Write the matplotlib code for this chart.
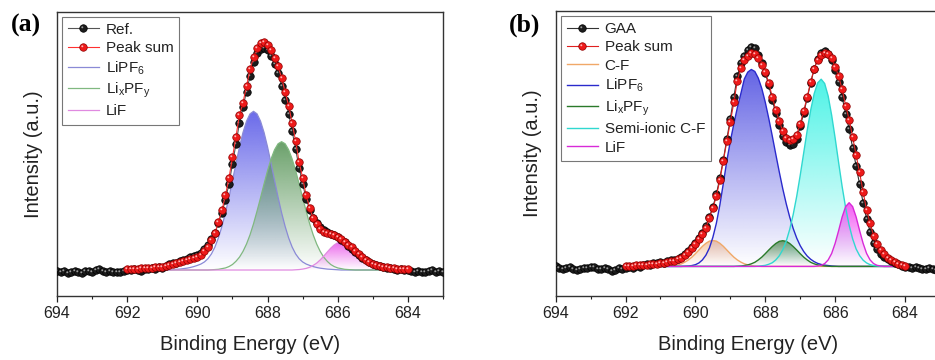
import numpy as np
import matplotlib
matplotlib.use('Agg')
import matplotlib.pyplot as plt
import matplotlib.colors as mcolors
from matplotlib.path import Path
from matplotlib.ticker import MultipleLocator

plt.rcParams['font.family'] = ['Liberation Sans', 'DejaVu Sans']
plt.rcParams['mathtext.fontset'] = 'custom'
plt.rcParams['mathtext.rm'] = 'Liberation Sans'
plt.rcParams['mathtext.it'] = 'Liberation Sans:italic'
plt.rcParams['mathtext.bf'] = 'Liberation Sans:bold'

# binding energy grids (eV): measured scan and fitted window
meas_energy = np.linspace(694.0, 683.0, 111)
fit_energy = np.linspace(692.0, 684.0, 81)

# ---- panel (a): reference electrolyte, F 1s ----
ref_a = [-.004, -.008, -.006, -.011, -.007, -.003, -.009, -.012, -.006, -.004,
         -.008, -.002, .003, -.004, -.009, -.006, -.010, -.007, -.008, -.005,
         .000, -.002, .004, .002, -.003, .006, .003, .008, .005, .014,
         .010, .018, .024, .032, .030, .040, .045, .050, .056, .060,
         .066, .076, .090, .110, .135, .160, .205, .250, .305, .375,
         .46, .55, .64, .71, .775, .845, .905, .945, .962, .965,
         .955, .93, .895, .855, .80, .74, .68, .605, .525, .445,
         .375, .31, .262, .225, .205, .185, .172, .165, .158, .152,
         .143, .132, .12, .106, .092, .078, .064, .052, .042, .034,
         .027, .020, .017, .011, .008, .010, .004, .002, .005, -.001,
         .000, -.004, -.008, -.003, -.007, -.010, -.006, -.002, -.009, -.006,
         -.008]
sum_a = [.003, .004, .005, .006, .007, .008, .009, .010, .012, .013,
         .015, .018, .021, .025, .029, .033, .037, .042, .046, .051,
         .057, .067, .082, .10, .13, .16, .21, .26, .325, .40,
         .49, .58, .675, .728, .80, .872, .925, .965, .986, .99,
         .98, .955, .92, .885, .835, .775, .715, .64, .56, .47,
         .40, .325, .27, .225, .20, .178, .166, .16, .155, .151,
         .145, .135, .122, .11, .098, .083, .068, .055, .044, .035,
         .028, .023, .018, .014, .011, .009, .007, .006, .005, .004,
         .004]
lipf6_a = [0, 0, 0, 0, 0, 0, 0, 0, 0, 0,
           0, 0, .001, .002, .003, .004, .006, .008, .011, .015,
           .02, .026, .035, .049, .07, .1, .14, .19, .249, .316,
           .389, .463, .535, .598, .647, .679, .69, .679, .647, .598,
           .535, .463, .389, .316, .249, .19, .14, .1, .07, .049,
           .035, .026, .02, .015, .011, .008, .006, .004, .003, .002,
           .001, 0, 0, 0, 0, 0, 0, 0, 0, 0,
           0, 0, 0, 0, 0, 0, 0, 0, 0, 0,
           0]
lixpfy_a = [0, 0, 0, 0, 0, 0, 0, 0, 0, 0,
            0, 0, 0, 0, 0, 0, 0, 0, 0, 0,
            0, 0, 0, 0, .001, .002, .003, .006, .009, .015,
            .024, .038, .056, .081, .113, .153, .201, .256, .314, .374,
            .432, .483, .523, .549, .558, .549, .523, .483, .432, .374,
            .314, .256, .201, .153, .113, .081, .056, .038, .024, .015,
            .009, .006, .003, .002, .001, 0, 0, 0, 0, 0,
            0, 0, 0, 0, 0, 0, 0, 0, 0, 0,
            0]
lif_a = [0, 0, 0, 0, 0, 0, 0, 0, 0, 0,
         0, 0, 0, 0, 0, 0, 0, 0, 0, 0,
         0, 0, 0, 0, 0, 0, 0, 0, 0, 0,
         0, 0, 0, 0, 0, 0, 0, 0, 0, 0,
         0, 0, 0, 0, 0, 0, 0, 0, .001, .002,
         .004, .007, .012, .02, .03, .044, .06, .078, .095, .109,
         .119, .122, .119, .109, .095, .078, .06, .044, .03, .02,
         .012, .007, .004, .002, .001, 0, 0, 0, 0, 0,
         0]

# ---- panel (b): GAA, F 1s ----
gaa_b = [.002, -.006, -.010, -.008, -.004, -.012, -.018, -.011, -.006, -.009,
         -.005, -.004, -.010, -.014, -.008, -.012, -.019, -.015, -.009, -.012,
         -.008, -.004, -.006, .002, -.001, .008, .012, .008, .014, .016,
         .020, .018, .024, .028, .030, .036, .045, .058, .072, .090,
         .110, .130, .155, .185, .230, .275, .335, .410, .495, .590,
         .685, .785, .88, .94, .975, 1.0, 1.015, 1.01, .98, .94,
         .895, .84, .77, .71, .655, .605, .575, .562, .565, .592,
         .648, .71, .78, .85, .915, .96, .99, .998, .985, .955,
         .91, .855, .785, .705, .635, .55, .465, .38, .295, .22,
         .16, .11, .08, .058, .045, .034, .025, .016, .01, .004,
         -.002, -.005, -.008, -.004, -.009, -.013, -.010, -.006, -.011, -.015,
         -.012]
sum_b = [.002, .003, .004, .005, .006, .007, .008, .010, .011, .013,
         .015, .017, .020, .023, .027, .033, .041, .053, .068, .085,
         .103, .125, .15, .18, .225, .27, .325, .40, .49, .58,
         .67, .76, .86, .92, .955, .975, .987, .985, .965, .935,
         .90, .85, .785, .725, .675, .625, .595, .586, .588, .61,
         .66, .72, .785, .855, .915, .958, .98, .99, .985, .964,
         .925, .88, .82, .745, .68, .60, .515, .435, .345, .262,
         .20, .142, .103, .075, .056, .04, .028, .019, .012, .007,
         .004]
cf_b = [0, 0, 0, 0, 0, 0, 0, 0, 0, 0,
        0, 0, .001, .002, .004, .007, .012, .02, .03, .043,
        .059, .076, .093, .107, .117, .12, .117, .107, .093, .076,
        .059, .043, .03, .02, .012, .007, .004, .002, .001, 0,
        0, 0, 0, 0, 0, 0, 0, 0, 0, 0,
        0, 0, 0, 0, 0, 0, 0, 0, 0, 0,
        0, 0, 0, 0, 0, 0, 0, 0, 0, 0,
        0, 0, 0, 0, 0, 0, 0, 0, 0, 0,
        0]
lipf6_b = [0, 0, 0, 0, 0, 0, 0, 0, 0, 0,
           0, 0, 0, 0, 0, 0, 0, .001, .002, .004,
           .008, .016, .03, .052, .085, .135, .20, .285, .385, .49,
           .58, .66, .735, .80, .868, .900, .912, .903, .872, .824,
           .76, .685, .604, .52, .438, .36, .29, .228, .175, .131,
           .096, .069, .048, .033, .022, .014, .009, .006, .004, .002,
           .001, 0, 0, 0, 0, 0, 0, 0, 0, 0,
           0, 0, 0, 0, 0, 0, 0, 0, 0, 0,
           0]
lixpfy_b = [0, 0, 0, 0, 0, 0, 0, 0, 0, 0,
            0, 0, 0, 0, 0, 0, 0, 0, 0, 0,
            0, 0, 0, 0, 0, 0, 0, 0, 0, 0,
            0, 0, .001, .002, .004, .007, .012, .019, .03, .043,
            .059, .076, .092, .106, .116, .119, .116, .106, .092, .076,
            .059, .043, .03, .019, .012, .007, .004, .002, .001, 0,
            0, 0, 0, 0, 0, 0, 0, 0, 0, 0,
            0, 0, 0, 0, 0, 0, 0, 0, 0, 0,
            0]
semi_cf_b = [0, 0, 0, 0, 0, 0, 0, 0, 0, 0,
             0, 0, 0, 0, 0, 0, 0, 0, 0, 0,
             0, 0, 0, 0, 0, 0, 0, 0, 0, 0,
             0, 0, 0, 0, 0, 0, 0, 0, .001, .003,
             .005, .01, .017, .03, .049, .077, .117, .172, .241, .325,
             .422, .526, .63, .724, .80, .85, .867, .847, .789, .70,
             .594, .48, .37, .272, .191, .128, .081, .05, .029, .016,
             .008, .004, .002, .001, 0, 0, 0, 0, 0, 0,
             0]
lif_b = [0, 0, 0, 0, 0, 0, 0, 0, 0, 0,
         0, 0, 0, 0, 0, 0, 0, 0, 0, 0,
         0, 0, 0, 0, 0, 0, 0, 0, 0, 0,
         0, 0, 0, 0, 0, 0, 0, 0, 0, 0,
         0, 0, 0, 0, 0, 0, 0, 0, 0, 0,
         0, 0, 0, 0, 0, .002, .005, .013, .03, .06,
         .107, .166, .229, .277, .295, .277, .229, .166, .107, .06,
         .03, .013, .005, .002, 0, 0, 0, 0, 0, 0,
         0]

# small off-centre dot drawn on top of each ball to give it a shine
_c = Path.circle(center=(-0.32, 0.32), radius=0.26)
SHINE = Path(np.vstack([[[1.0, 1.0]], _c.vertices]),
             np.concatenate([[Path.MOVETO], _c.codes]))


def gradient_fill(ax, x, y, color, alpha_top, z):
    x = np.asarray(x)
    y = np.asarray(y)
    poly = ax.fill_between(x, 0, y, facecolor='none', edgecolor='none', zorder=z)
    grad = np.zeros((256, 1, 4))
    grad[:, :, :3] = mcolors.to_rgb(color)
    grad[:, 0, 3] = np.linspace(0, alpha_top, 256)
    im = ax.imshow(grad, aspect='auto', origin='lower', interpolation='bilinear',
                   extent=[x.min(), x.max(), 0, y.max()], zorder=z)
    im.set_clip_path(poly.get_paths()[0], transform=ax.transData)


def balls(ax, x, y, face, edge, shine, linecolor, z):
    line, = ax.plot(x, y, '-', color=linecolor, lw=0.8, marker='o', ms=5.4,
                    mfc=face, mec=edge, mew=0.5, zorder=z)
    hl, = ax.plot(x, y, ls='none', marker=SHINE, ms=5.4, mfc=shine,
                  mec='none', zorder=z + 0.1)
    return (line, hl)


def style_axes(ax, ylim):
    ax.set_xlim(694, 683)
    ax.set_ylim(*ylim)
    ax.set_yticks([])
    ax.xaxis.set_major_locator(MultipleLocator(2))
    ax.xaxis.set_minor_locator(MultipleLocator(1))
    ax.tick_params(axis='x', which='major', direction='out', length=4,
                   width=0.9, labelsize=11.5, pad=3, colors='#222222')
    ax.tick_params(axis='x', which='minor', direction='out', length=2.5,
                   width=0.8, colors='#222222')
    for sp in ax.spines.values():
        sp.set_linewidth(1.0)
        sp.set_color('#333333')
    ax.set_xlabel('Binding Energy (eV)', fontsize=14.5, color='#222222', labelpad=10)
    ax.set_ylabel('Intensity (a.u.)', fontsize=14.5, color='#222222', labelpad=10)


def add_legend(ax, handles, labels, anchor):
    leg = ax.legend(handles, labels, loc='upper left', bbox_to_anchor=anchor,
                    borderaxespad=0, fontsize=11, frameon=True, fancybox=False,
                    edgecolor='#555555', handlelength=2.0, handletextpad=0.45,
                    labelspacing=0.28, borderpad=0.4, numpoints=1)
    leg.get_frame().set_linewidth(0.8)
    for t in leg.get_texts():
        t.set_color('#222222')


fig = plt.figure(figsize=(9.35, 3.6), dpi=100)
ax_a = fig.add_axes([0.061, 0.1778, 0.4128, 0.7889])
ax_b = fig.add_axes([0.5943, 0.1778, 0.411, 0.7917])

# panel (a)
comps_a = [(lipf6_a, '#5050e6', 0.85, '#8a8ad6', r'LiPF$\mathregular{_6}$'),
           (lixpfy_a, '#4f8f4f', 0.85, '#80b880', r'Li$\mathregular{_x}$PF$\mathregular{_y}$'),
           (lif_a, '#e848e8', 0.85, '#e08ae0', 'LiF')]
comp_lines = []
for vals, fill_c, alpha, line_c, lab in comps_a:
    gradient_fill(ax_a, fit_energy, vals, fill_c, alpha, 1)
for vals, fill_c, alpha, line_c, lab in comps_a:
    ln, = ax_a.plot(fit_energy, vals, color=line_c, lw=0.9, zorder=2)
    comp_lines.append(ln)
h_ref = balls(ax_a, meas_energy, ref_a, '#1c1c1c', '#000000', '#9a9a9a', '#555555', 3)
h_sum = balls(ax_a, fit_energy, sum_a, '#ee1a1a', '#8b0000', '#ffb4b4', '#ff3030', 4)
style_axes(ax_a, (-0.113, 1.122))
add_legend(ax_a, [h_ref, h_sum] + comp_lines,
           ['Ref.', 'Peak sum'] + [c[4] for c in comps_a], (0.013, 0.984))

# panel (b)
comps_b = [(cf_b, '#f0b080', 0.7, '#f0a868', 'C-F'),
           (lipf6_b, '#4848e0', 0.85, '#2a2acc', r'LiPF$\mathregular{_6}$'),
           (lixpfy_b, '#3c7c3c', 0.75, '#2a7a2a', r'Li$\mathregular{_x}$PF$\mathregular{_y}$'),
           (semi_cf_b, '#20f0e0', 0.8, '#30d8d0', 'Semi-ionic C-F'),
           (lif_b, '#f030f0', 0.8, '#d82ad8', 'LiF')]
comp_lines = []
for vals, fill_c, alpha, line_c, lab in comps_b:
    gradient_fill(ax_b, fit_energy, vals, fill_c, alpha, 1)
for vals, fill_c, alpha, line_c, lab in comps_b:
    ln, = ax_b.plot(fit_energy, vals, color=line_c, lw=1.0, zorder=2)
    comp_lines.append(ln)
h_gaa = balls(ax_b, meas_energy, gaa_b, '#1c1c1c', '#000000', '#9a9a9a', '#333333', 3)
h_sum = balls(ax_b, fit_energy, sum_b, '#ee1a1a', '#8b0000', '#ffb4b4', '#e02020', 4)
style_axes(ax_b, (-0.137, 1.183))
add_legend(ax_b, [h_gaa, h_sum] + comp_lines,
           ['GAA', 'Peak sum'] + [c[4] for c in comps_b], (0.0138, 0.982))

fig.text(0.0273, 0.9306, '(a)', family=['Liberation Serif', 'DejaVu Serif'],
         fontweight='bold', fontsize=18.5, ha='center', va='center')
fig.text(0.561, 0.9306, '(b)', family=['Liberation Serif', 'DejaVu Serif'],
         fontweight='bold', fontsize=18.5, ha='center', va='center')

fig.savefig('out.png', dpi=100)
